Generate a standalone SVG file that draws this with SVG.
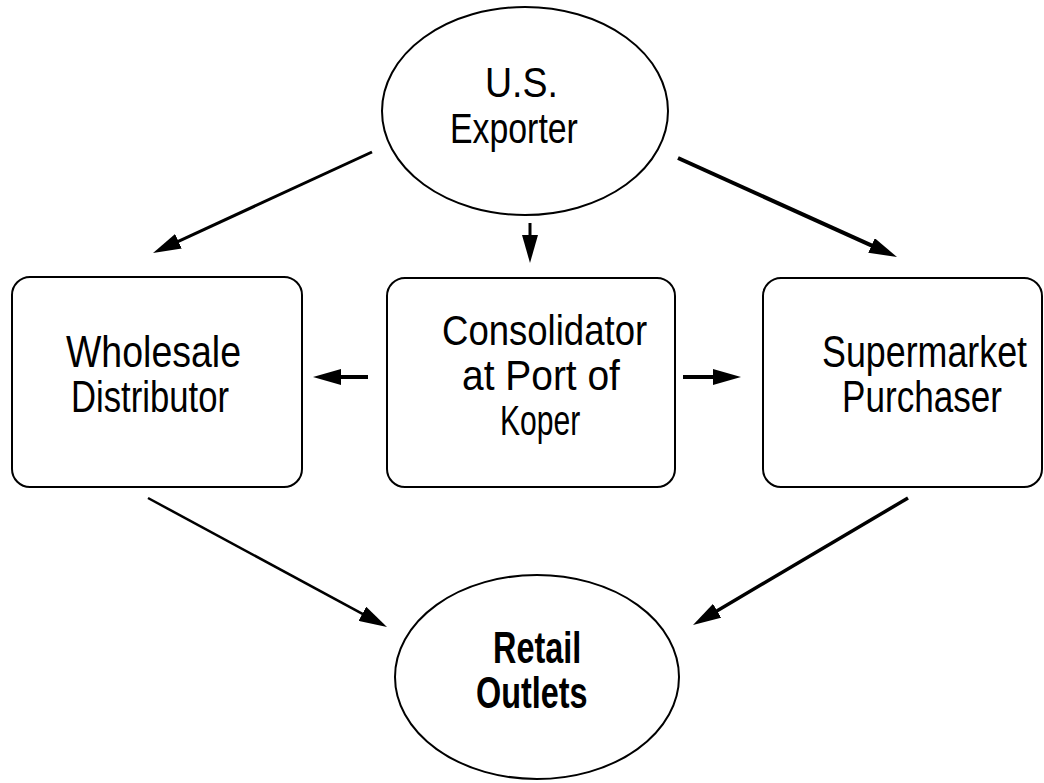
<svg xmlns="http://www.w3.org/2000/svg" width="1044" height="783" viewBox="0 0 1044 783">
<style>
.node{fill:#fff;stroke:#000;stroke-width:2}
.t{font-family:"Liberation Sans",Arial,sans-serif;fill:#000}
.b{font-weight:bold}
.c{stroke:#000;fill:none}
</style>
<defs>
<marker id="ah" viewBox="0 0 28 16" refX="18" refY="8" markerWidth="28" markerHeight="16" markerUnits="userSpaceOnUse" orient="auto">
<path d="M0,0 L28,8 L0,16 Z" fill="#000"/>
</marker>
</defs>
<rect width="1044" height="783" fill="#fff"/>
<g id="exporter">
<ellipse class="node" cx="525" cy="111" rx="143" ry="104"/>
<text class="t" transform="translate(485,97) scale(0.893,1)" font-size="42">U.S.</text>
<text class="t" transform="translate(450,143) scale(0.806,1)" font-size="42">Exporter</text>
</g>
<g id="wholesale">
<rect class="node" x="12" y="277" width="290" height="210" rx="18"/>
<text class="t" transform="translate(66,367) scale(0.852,1)" font-size="44">Wholesale</text>
<text class="t" transform="translate(71,412) scale(0.788,1)" font-size="44">Distributor</text>
</g>
<g id="consolidator">
<rect class="node" x="387" y="278" width="288" height="209" rx="18"/>
<text class="t" transform="translate(442,345) scale(0.87,1)" font-size="42">Consolidator</text>
<text class="t" transform="translate(462,390) scale(0.927,1)" font-size="42">at Port of</text>
<text class="t" transform="translate(500,435) scale(0.7,1)" font-size="43">Koper</text>
</g>
<g id="supermarket">
<rect class="node" x="763" y="278" width="279" height="209" rx="18"/>
<text class="t" transform="translate(822,367) scale(0.814,1)" font-size="44">Supermarket</text>
<text class="t" transform="translate(842,412) scale(0.798,1)" font-size="44">Purchaser</text>
</g>
<g id="retail">
<ellipse class="node" cx="537" cy="677" rx="142" ry="102"/>
<text class="t b" transform="translate(493,663) scale(0.72,1)" font-size="45">Retail</text>
<text class="t b" transform="translate(476,708) scale(0.72,1)" font-size="45">Outlets</text>
</g>
<g id="connectors">
<line class="c" x1="372" y1="152" x2="162.1" y2="248.8" stroke-width="3" marker-end="url(#ah)"/>
<line class="c" x1="530" y1="223" x2="530" y2="253" stroke-width="3" marker-end="url(#ah)"/>
<line class="c" x1="678" y1="158" x2="887.9" y2="252.9" stroke-width="4" marker-end="url(#ah)"/>
<line class="c" x1="368" y1="377" x2="323" y2="377" stroke-width="4" marker-end="url(#ah)"/>
<line class="c" x1="683" y1="377" x2="731" y2="377" stroke-width="4" marker-end="url(#ah)"/>
<line class="c" x1="148" y1="498" x2="378.2" y2="622.3" stroke-width="2.5" marker-end="url(#ah)"/>
<line class="c" x1="908" y1="498" x2="701.6" y2="619.9" stroke-width="3.5" marker-end="url(#ah)"/>
</g>
</svg>
